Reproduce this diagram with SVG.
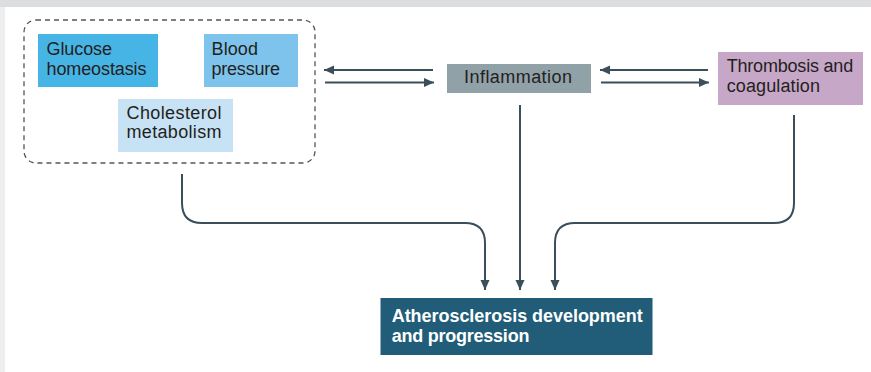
<svg xmlns="http://www.w3.org/2000/svg" width="871" height="372" viewBox="0 0 871 372">
  <defs>
    <marker id="ah" markerUnits="userSpaceOnUse" markerWidth="11" markerHeight="10" refX="10" refY="4.5" orient="auto">
      <path d="M0,0 L10,4.5 L0,9 Z" fill="#3b4e5a"/>
    </marker>
    <style>
      .lbl { font-family: "Liberation Sans", Arial, sans-serif; font-size: 18px; fill: #231f20; }
      .bold { font-family: "Liberation Sans", Arial, sans-serif; font-size: 18px; font-weight: bold; fill: #ffffff; }
      .conn { fill: none; stroke: #3b4e5a; stroke-width: 2; marker-end: url(#ah); }
    </style>
  </defs>
  <rect x="0" y="0" width="871" height="372" fill="#ffffff"/>
  <rect x="0" y="0" width="871" height="7" fill="#dcdddf"/>
  <rect x="0" y="7" width="5" height="365" fill="#eeeeee"/>

  <g id="risk-factors">
    <rect x="24" y="20" width="291" height="143" rx="12" ry="12" fill="none" stroke="#555555" stroke-width="1.3" stroke-dasharray="5 4"/>
  </g>
  <g id="glucose">
    <rect x="38" y="34" width="120" height="53" fill="#47b4e6"/>
    <text class="lbl" x="46.5" y="55" textLength="65.5">Glucose</text>
    <text class="lbl" x="46.5" y="75" textLength="100">homeostasis</text>
  </g>
  <g id="blood-pressure">
    <rect x="204" y="34" width="94" height="53" fill="#7dc3ec"/>
    <text class="lbl" x="211.5" y="55" textLength="46.5">Blood</text>
    <text class="lbl" x="211.5" y="75" textLength="68.5">pressure</text>
  </g>
  <g id="cholesterol">
    <rect x="118" y="99" width="115" height="53" fill="#c8e2f5"/>
    <text class="lbl" x="126.5" y="119" textLength="95">Cholesterol</text>
    <text class="lbl" x="126.5" y="138" textLength="95">metabolism</text>
  </g>
  <g id="inflammation">
    <rect x="447" y="64" width="144" height="29" fill="#91a1a8"/>
    <text class="lbl" x="464" y="83.3" textLength="108">Inflammation</text>
  </g>
  <g id="thrombosis">
    <rect x="718" y="52" width="145" height="53" fill="#c7a7c8"/>
    <text class="lbl" x="726.7" y="71.7" textLength="126.5">Thrombosis and</text>
    <text class="lbl" x="726.7" y="91.7" textLength="93.3">coagulation</text>
  </g>
  <g id="atherosclerosis">
    <rect x="380.5" y="298" width="272" height="57" fill="#215d78"/>
    <text class="bold" x="391.7" y="321.7" textLength="251">Atherosclerosis development</text>
    <text class="bold" x="391.7" y="342" textLength="137.7">and progression</text>
  </g>

  <g id="connectors">
    <line class="conn" x1="433" y1="70" x2="324" y2="70"/>
    <line class="conn" x1="325" y1="82.5" x2="434" y2="82.5"/>
    <line class="conn" x1="708" y1="70" x2="600" y2="70"/>
    <line class="conn" x1="601" y1="82.5" x2="709" y2="82.5"/>
    <path class="conn" d="M182,174 V203 Q182,223 202,223 H465 Q485,223 485,243 V290"/>
    <path class="conn" d="M520,105 V290"/>
    <path class="conn" d="M794,115 V203 Q794,223 774,223 H575 Q555,223 555,243 V290"/>
  </g>
</svg>
